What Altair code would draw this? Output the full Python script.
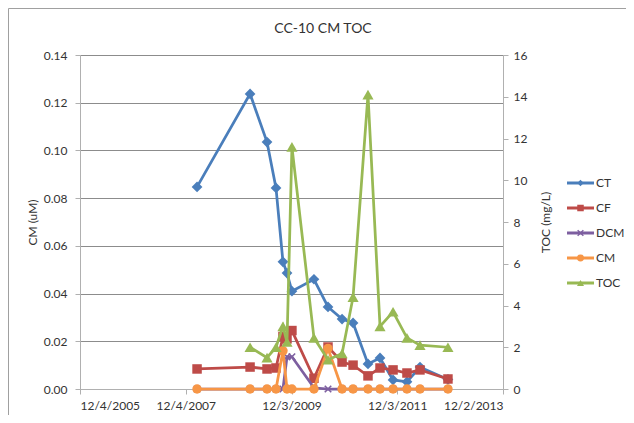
import sys
import altair as alt
import pandas as pd

# ---- data ----
dates = ["2008-02-20", "2009-02-20", "2009-06-17", "2009-08-18", "2009-10-05",
         "2009-11-02", "2009-12-06", "2010-05-07", "2010-08-12", "2010-11-17",
         "2011-02-01", "2011-05-15", "2011-08-06", "2011-11-04", "2012-02-08",
         "2012-05-08", "2012-11-17"]
CT = [0.0847, 0.1237, 0.1035, 0.0843, 0.0533, 0.0486, 0.0410, 0.0460, 0.0344,
      0.0293, 0.0277, 0.0105, 0.0130, 0.0038, 0.0030, 0.0092, 0.0040]
CF = [0.0084, 0.0092, 0.0084, 0.0088, 0.0220, 0.0210, 0.0245, 0.0045, 0.0176,
      0.0113, 0.0100, 0.0055, 0.0088, 0.0080, 0.0067, 0.0080, 0.0042]
DCM = [0, 0, 0, 0, 0, 0.0135, 0.0135, 0.0005, 0, 0, 0, 0, 0, 0, 0, 0, 0]
CM = [0, 0, 0, 0, 0.0160, 0, 0, 0, 0.0170, 0, 0, 0, 0, 0, 0, 0, 0]
TOC = [None, 2.0, 1.5, 2.0, 3.0, 2.25, 11.6, 2.45, 1.4, 1.7, 4.4, 14.1, 3.0,
       3.7, 2.45, 2.1, 2.0]

series_names = ["CT", "CF", "DCM", "CM", "TOC"]
series_colors = ["#4A7EBB", "#BE4B48", "#7D5FA0", "#F79646", "#98B954"]
x_tick_dates = [(2005, 12, 4), (2007, 12, 4), (2009, 12, 3), (2011, 12, 3), (2013, 12, 2)]
left_ticks = [0, 0.02, 0.04, 0.06, 0.08, 0.10, 0.12, 0.14]
right_ticks = [0, 2, 4, 6, 8, 10, 12, 14, 16]

title_text = "CC-10 CM TOC"
left_title = "CM (uM)"
right_title = "TOC (mg/L)"

values = {"CT": CT, "CF": CF, "DCM": DCM, "CM": CM, "TOC": TOC}
rows = []
for s in series_names:
    for d, v in zip(dates, values[s]):
        if v is not None:
            rows.append({"date": d, "series": s, "value": v})
df = pd.DataFrame(rows)
legend_df = pd.DataFrame({"series": series_names})
title_df = pd.DataFrame({"t": [title_text]})

FONT = "Lato"
TXT = "#333333"


def dt(t):
    return alt.DateTime(year=t[0], month=t[1], date=t[2], utc=True)


x_enc = alt.X("date:T",
              scale=alt.Scale(type="utc", domain=[dt(x_tick_dates[0]), dt(x_tick_dates[-1])]),
              axis=alt.Axis(values=[dt(t) for t in x_tick_dates],
                            labelExpr="utcFormat(datum.value, '%-m/%-d/%Y')",
                            title=None, grid=False, tickSize=5,
                            labelPadding=6, domainColor="#b0b0b0", tickColor="#b0b0b0",
                            labelFont=FONT, labelFontSize=12, labelColor=TXT))

color_enc = alt.Color("series:N", scale=alt.Scale(domain=series_names, range=series_colors),
                      legend=None)

left_axis = alt.Axis(values=left_ticks, format=".2f", title=left_title, orient="left",
                     grid=True, gridColor="#8c8c8c", gridWidth=1, tickSize=5, labelPadding=8,
                     domainColor="#b0b0b0", tickColor="#b0b0b0",
                     labelFont=FONT, labelFontSize=12, labelColor=TXT,
                     titleFont=FONT, titleFontSize=12, titleFontWeight="normal",
                     titleColor=TXT, titleX=-48, titleY=167, titleBaseline="middle",
                     titleAngle=270, titleAlign="center")
right_axis = alt.Axis(values=right_ticks, format="d", title=right_title, orient="right",
                      grid=False, tickSize=5, labelPadding=5,
                      domainColor="#b0b0b0", tickColor="#b0b0b0",
                      labelFont=FONT, labelFontSize=12, labelColor=TXT,
                      titleFont=FONT, titleFontSize=12, titleFontWeight="normal",
                      titleColor=TXT, titleX=42, titleY=167, titleBaseline="middle",
                      titleAngle=270, titleAlign="center")

left_scale = alt.Scale(domain=[0, 0.14], nice=False)
right_scale = alt.Scale(domain=[0, 16], nice=False)

X_STROKE = "M-1,-1L1,1M-1,1L1,-1"
X_FILLED = ("M-1,-0.7L-0.7,-1L0,-0.3L0.7,-1L1,-0.7L0.3,0L1,0.7L0.7,1L0,0.3"
            "L-0.7,1L-1,0.7L-0.3,0Z")
marker = {
    "CT": dict(shape="diamond", size=115),
    "CF": dict(shape="square", size=90),
    "DCM": dict(shape=X_STROKE, size=42),
    "CM": dict(shape="circle", size=90),
    "TOC": dict(shape="triangle-up", size=125),
}


def series_layers(s, yscale, yaxis):
    base = alt.Chart(df).transform_filter(alt.datum.series == s)
    y = alt.Y("value:Q", scale=yscale, axis=yaxis)
    line = base.mark_line(strokeWidth=2.75).encode(x=x_enc, y=y, color=color_enc)
    m = marker[s]
    if s == "DCM":
        pt = base.mark_point(filled=False, shape=m["shape"], size=m["size"],
                             strokeWidth=1.6, opacity=1).encode(x=x_enc, y=y, color=color_enc)
    else:
        pt = base.mark_point(filled=True, shape=m["shape"], size=m["size"],
                             opacity=1).encode(x=x_enc, y=y, color=color_enc)
    return [line, pt]


left_layers = []
for s in ["CT", "CF", "DCM", "CM"]:
    left_layers += series_layers(s, left_scale, left_axis)
left_group = alt.layer(*left_layers)
right_group = alt.layer(*series_layers("TOC", right_scale, right_axis))

# chart frame, title and legend (line + marker per series)
border = alt.Chart(title_df).mark_rule(color="#a0a0a0", strokeWidth=1)
border_left = border.encode(x=alt.value(-71.5), y=alt.value(-46.5), y2=alt.value(400))
border_top = border.encode(x=alt.value(-71.5), x2=alt.value(560), y=alt.value(-46.5))
title_mark = alt.Chart(title_df).mark_text(font=FONT, fontSize=14, color=TXT,
                                           align="center", baseline="middle").encode(
    text="t:N", x=alt.value(243), y=alt.value(-26))

leg_y = alt.Y("series:N", scale=alt.Scale(type="point", domain=series_names,
                                          range=[128, 228], padding=0), axis=None)
leg_base = alt.Chart(legend_df)
leg_line = leg_base.mark_rule(strokeWidth=3).encode(
    x=alt.value(487), x2=alt.value(514), y=leg_y, color=color_enc)
leg_pt = leg_base.mark_point(filled=True, opacity=1).encode(
    x=alt.value(500.5), y=leg_y, color=color_enc,
    shape=alt.Shape("series:N", scale=alt.Scale(
        domain=series_names,
        range=["diamond", "square", X_FILLED, "circle", "triangle-up"]), legend=None),
    size=alt.Size("series:N", scale=alt.Scale(domain=series_names,
                                              range=[40, 50, 30, 48, 60]), legend=None))
leg_text = leg_base.mark_text(font=FONT, fontSize=12, color=TXT, align="left",
                              baseline="middle").encode(
    x=alt.value(516), y=leg_y, text="series:N")
deco_group = alt.layer(border_left, border_top, title_mark, leg_line, leg_pt, leg_text)

chart = alt.layer(left_group, right_group, deco_group).resolve_scale(
    y="independent").properties(
    width=423, height=334,
    autosize=alt.AutoSizeParams(type="none"),
    padding={"left": 72, "top": 47, "right": 123, "bottom": 26},
).configure_view(stroke=None).configure(background="white")

chart.save("out.html", embed_options={"renderer": "svg", "actions": False})
